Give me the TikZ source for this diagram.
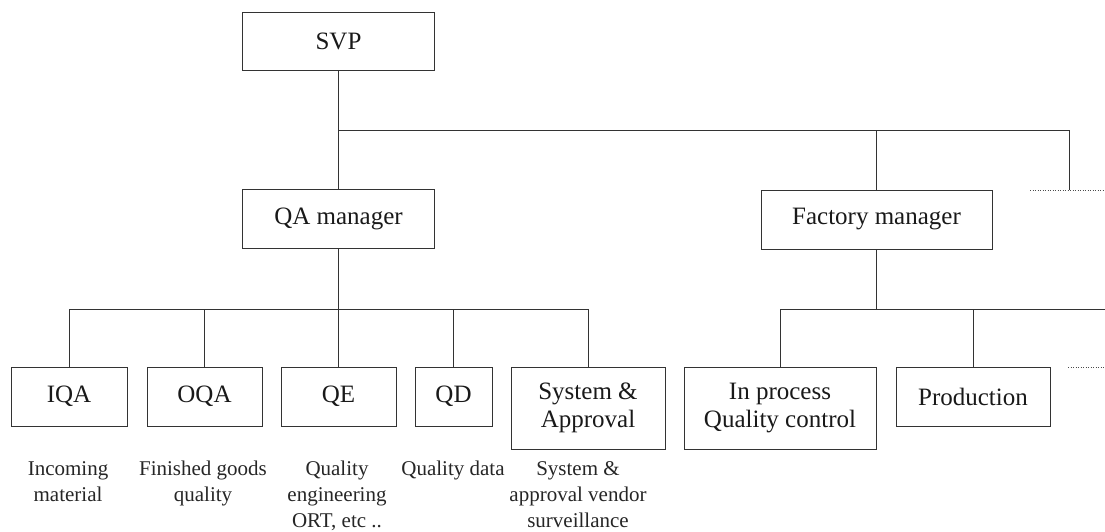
\documentclass[tikz,border=0pt]{standalone}
\usepackage{fontspec}
\setmainfont{Liberation Serif}
\begin{document}
\begin{tikzpicture}[x=1pt,y=-1pt,
  box/.style={draw=black!80, line width=0.9pt, rectangle, inner sep=0pt,
    font=\fontsize{25}{28}\selectfont, align=center, text=black!90},
  lbl/.style={inner sep=0pt, font=\fontsize{21}{26}\selectfont, align=center,
    anchor=north, text=black!85},
  wire/.style={draw=black!80, line width=0.9pt},
  more/.style={draw=black!70, line width=0.8pt, dash pattern=on 1pt off 1.5pt}]
\useasboundingbox (0,0) rectangle (1105,532);

% top level
\node[box, minimum width=192pt, minimum height=58pt] (svp) at (338.5,41) {SVP};
\node[box, minimum width=192pt, minimum height=59pt] (qa) at (338.5,218.5) {QA manager};
\node[box, minimum width=231pt, minimum height=59pt] (fm) at (876.5,219.5) {Factory manager};

% QA departments
\node[box, minimum width=116pt, minimum height=59pt] (iqa) at (69,396.5) {IQA};
\node[box, minimum width=115pt, minimum height=59pt] (oqa) at (204.5,396.5) {OQA};
\node[box, minimum width=115pt, minimum height=59pt] (qe) at (338.5,396.5) {QE};
\node[box, minimum width=77pt, minimum height=59pt] (qd) at (453.5,396.5) {QD};
\node[box, minimum width=154pt, minimum height=82pt] (sa) at (588,408) {System \&\\Approval};

% factory departments
\node[box, minimum width=192pt, minimum height=82pt] (ipqc) at (780,408) {In process\\Quality control};
\node[box, minimum width=154pt, minimum height=59pt] (prod) at (973,396.5) {Production};

% duties
\node[lbl] (d1) at (68,461) {Incoming\\material};
\node[lbl] (d2) at (203,461) {Finished goods\\quality};
\node[lbl] (d3) at (337,461) {Quality\\engineering\\ORT, etc ..};
\node[lbl] (d4) at (453,461) {Quality data};
\node[lbl] (d5) at (578,461) {System \&\\approval vendor\\surveillance};

% bus levels and open ends
\coordinate (tb) at (0,130);
\coordinate (stub) at (1069,190);
\coordinate (stubl) at (1030,190);
\coordinate (stubr) at (1105,190);
\coordinate (qb) at (0,309);
\coordinate (fbend) at (1105,309);
\coordinate (dl) at (1068,367);
\coordinate (dr) at (1105,367);

% SVP level
\draw[wire] (svp.south) -- (qa.north);
\draw[wire] (svp.south |- tb) -| (fm.north);
\draw[wire] (fm.north |- tb) -| (stub);
\draw[more] (stubl) -- (stubr);

% QA branch
\draw[wire] (qa.south) -- (qe.north);
\draw[wire] (iqa.north) |- (sa.north |- qb) -- (sa.north);
\draw[wire] (oqa.north) -- (oqa.north |- qb);
\draw[wire] (qd.north) -- (qd.north |- qb);

% factory branch
\draw[wire] (fm.south) -- (fm.south |- fbend);
\draw[wire] (ipqc.north) |- (fbend);
\draw[wire] (prod.north) -- (prod.north |- fbend);
\draw[more] (dl) -- (dr);
\end{tikzpicture}
\end{document}
